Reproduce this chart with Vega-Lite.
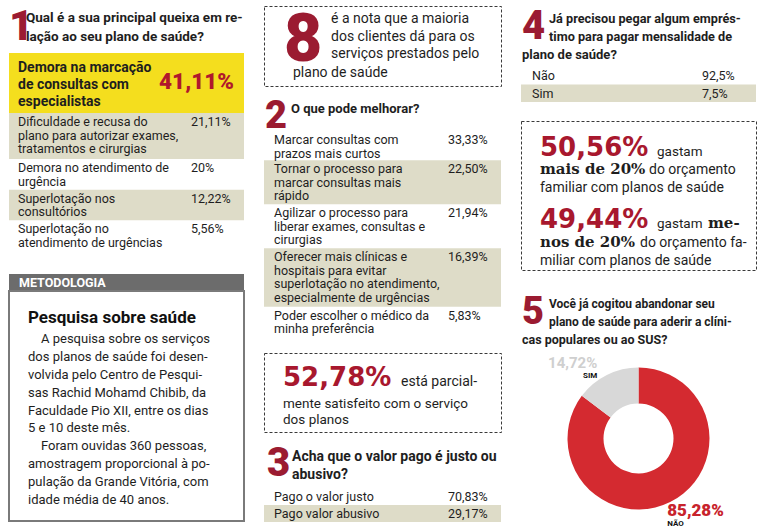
{
  "$schema": "https://vega.github.io/schema/vega-lite/v6.json",
  "padding": {"left": 8, "top": 5, "right": 0, "bottom": 0},
  "background": "white",
  "config": {"view": {"stroke": null}, "text": {"font": "Roboto", "color": "#1e1e1e"}},
  "datasets": {
    "q1": [
      {"ordem": 1, "rotulo": "Demora na marcação\nde consultas com\nespecialistas", "valor": 41.11, "texto_valor": "41,11%", "linhas": 3},
      {"ordem": 2, "rotulo": "Dificuldade e recusa do\nplano para autorizar exames,\ntratamentos e cirurgias", "valor": 21.11, "texto_valor": "21,11%", "linhas": 3},
      {"ordem": 3, "rotulo": "Demora no atendimento de\nurgência", "valor": 20, "texto_valor": "20%", "linhas": 2},
      {"ordem": 4, "rotulo": "Superlotação nos\nconsultórios", "valor": 12.22, "texto_valor": "12,22%", "linhas": 2},
      {"ordem": 5, "rotulo": "Superlotação no\natendimento de urgências", "valor": 5.56, "texto_valor": "5,56%", "linhas": 2}
    ],
    "q2": [
      {"ordem": 1, "rotulo": "Marcar consultas com\nprazos mais curtos", "valor": 33.33, "texto_valor": "33,33%", "linhas": 2},
      {"ordem": 2, "rotulo": "Tornar o processo para\nmarcar consultas mais\nrápido", "valor": 22.5, "texto_valor": "22,50%", "linhas": 3},
      {"ordem": 3, "rotulo": "Agilizar o processo para\nliberar exames, consultas e\ncirurgias", "valor": 21.94, "texto_valor": "21,94%", "linhas": 3},
      {"ordem": 4, "rotulo": "Oferecer mais clínicas e\nhospitais para evitar\nsuperlotação no atendimento,\nespecialmente de urgências", "valor": 16.39, "texto_valor": "16,39%", "linhas": 4},
      {"ordem": 5, "rotulo": "Poder escolher o médico da\nminha preferência", "valor": 5.83, "texto_valor": "5,83%", "linhas": 2}
    ],
    "q3": [
      {"ordem": 1, "rotulo": "Pago o valor justo", "valor": 70.83, "texto_valor": "70,83%", "linhas": 1},
      {"ordem": 2, "rotulo": "Pago valor abusivo", "valor": 29.17, "texto_valor": "29,17%", "linhas": 1}
    ],
    "q4": [
      {"ordem": 1, "rotulo": "Não", "valor": 92.5, "texto_valor": "92,5%", "linhas": 1},
      {"ordem": 2, "rotulo": "Sim", "valor": 7.5, "texto_valor": "7,5%", "linhas": 1}
    ],
    "q5": [
      {"ordem": 1, "resposta": "Não", "valor": 85.28, "texto_valor": "85,28%"},
      {"ordem": 2, "resposta": "Sim", "valor": 14.72, "texto_valor": "14,72%"}
    ],
    "orc": [
      {"ordem": 1, "pct": "50,56%", "valor": 50.56, "verbo": "gastam", "verbo_fim": "", "destaque": "mais de 20%", "meio": "do orçamento", "fim": "familiar com planos de saúde"},
      {"ordem": 2, "pct": "49,44%", "valor": 49.44, "verbo": "gastam", "verbo_fim": "me-", "destaque": "nos de 20%", "meio": "do orçamento fa-", "fim": "miliar com planos de saúde"}
    ]
  },
  "spacing": 18,
  "hconcat": [
    {
      "spacing": 0,
      "bounds": "flush",
      "vconcat": [
        {
          "width": 235, "height": 47,
          "data": {"values": [{"numero": "1", "pergunta": "Qual é a sua principal queixa em re-\nlação ao seu plano de saúde?"}]},
          "layer": [
            {"mark": {"type": "text", "x": 0, "y": 34, "align": "left", "baseline": "alphabetic", "fontSize": 42, "fontWeight": 900, "color": "#9b1b31"}, "encoding": {"text": {"field": "numero"}}},
            {"mark": {"type": "text", "x": 17, "y": 16, "align": "left", "baseline": "alphabetic", "fontSize": 13.5, "fontWeight": "bold", "lineHeight": 19, "lineBreak": "\n"}, "encoding": {"text": {"field": "pergunta"}}}
          ]
        },
        {
          "width": 235, "height": 60,
          "view": {"fill": "#f4de1e"},
          "data": {"name": "q1"},
          "transform": [{"filter": "datum.ordem === 1"}],
          "layer": [
            {"mark": {"type": "text", "x": 9, "y": 19, "align": "left", "baseline": "alphabetic", "fontSize": 14, "fontWeight": "bold", "lineHeight": 17, "lineBreak": "\n"}, "encoding": {"text": {"field": "rotulo"}}},
            {"mark": {"type": "text", "x": 225, "y": 36, "align": "right", "baseline": "alphabetic", "fontSize": 22.5, "fontWeight": 900, "color": "#b0182c"}, "encoding": {"text": {"field": "texto_valor"}}}
          ]
        },
        {
          "width": 235, "height": 138,
          "data": {"name": "q1"},
          "transform": [
            {"filter": "datum.ordem > 1"},
            {"stack": "linhas", "groupby": [], "sort": [{"field": "ordem", "order": "ascending"}], "as": ["inicio", "fim"]}
          ],
          "encoding": {"y": {"field": "inicio", "type": "quantitative", "scale": {"domain": [0, 9], "reverse": true, "nice": false, "zero": true}, "axis": null}},
          "layer": [
            {"transform": [{"filter": "datum.ordem % 2 === 0"}], "mark": {"type": "rect", "fill": "#dedcc8"}, "encoding": {"x": {"value": 0}, "x2": {"value": "width"}, "y2": {"field": "fim"}}},
            {"mark": {"type": "text", "x": 9, "dy": 3, "align": "left", "baseline": "top", "fontSize": 12.5, "lineHeight": 13.6, "lineBreak": "\n"}, "encoding": {"text": {"field": "rotulo"}}},
            {"mark": {"type": "text", "x": 182, "dy": 3, "align": "left", "baseline": "top", "fontSize": 12.5}, "encoding": {"text": {"field": "texto_valor"}}}
          ]
        },
        {"width": 235, "height": 23, "data": {"values": [{}]}, "mark": {"type": "text"}, "encoding": {"text": {"value": ""}}},
        {
          "width": 235, "height": 17,
          "view": {"fill": "#6c6c6c"},
          "data": {"values": [{"titulo": "METODOLOGIA"}]},
          "mark": {"type": "text", "x": 10, "y": 13, "align": "left", "baseline": "alphabetic", "fontSize": 12.5, "fontWeight": "bold", "color": "white"},
          "encoding": {"text": {"field": "titulo"}}
        },
        {
          "width": 235, "height": 230,
          "view": {"stroke": "#7a7a7a", "strokeWidth": 2},
          "data": {"values": [{"titulo": "Pesquisa sobre saúde", "p1_inicio": "A pesquisa sobre os serviços", "p1_resto": "dos planos de saúde foi desen-\nvolvida pelo Centro de Pesqui-\nsas Rachid Mohamd Chibib, da\nFaculdade Pio XII, entre os dias\n5 e 10 deste mês.", "p2_inicio": "Foram ouvidas 360 pessoas,", "p2_resto": "amostragem proporcional à po-\npulação da Grande Vitória, com\nidade média de 40 anos."}]},
          "layer": [
            {"mark": {"type": "text", "x": 19, "y": 32, "align": "left", "baseline": "alphabetic", "fontSize": 17, "fontWeight": "bold", "color": "#111"}, "encoding": {"text": {"field": "titulo"}}},
            {"mark": {"type": "text", "x": 32, "y": 52, "align": "left", "baseline": "alphabetic", "fontSize": 13}, "encoding": {"text": {"field": "p1_inicio"}}},
            {"mark": {"type": "text", "x": 19, "y": 69.9, "align": "left", "baseline": "alphabetic", "fontSize": 13, "lineHeight": 17.9, "lineBreak": "\n"}, "encoding": {"text": {"field": "p1_resto"}}},
            {"mark": {"type": "text", "x": 32, "y": 159.4, "align": "left", "baseline": "alphabetic", "fontSize": 13}, "encoding": {"text": {"field": "p2_inicio"}}},
            {"mark": {"type": "text", "x": 19, "y": 177.3, "align": "left", "baseline": "alphabetic", "fontSize": 13, "lineHeight": 17.9, "lineBreak": "\n"}, "encoding": {"text": {"field": "p2_resto"}}}
          ]
        }
      ]
    },
    {
      "spacing": 0,
      "bounds": "flush",
      "vconcat": [
        {
          "width": 237, "height": 80,
          "view": {"stroke": "#3a3a3a", "strokeDash": [3, 2], "strokeWidth": 1},
          "data": {"values": [{"nota": "8", "texto": "é a nota que a maioria\ndos clientes dá para os\nserviços prestados pelo", "fim": "plano de saúde"}]},
          "layer": [
            {"mark": {"type": "text", "x": 20, "y": 55, "align": "left", "baseline": "alphabetic", "fontSize": 66, "fontWeight": 900, "color": "#9b1b31"}, "encoding": {"text": {"field": "nota"}}},
            {"mark": {"type": "text", "x": 67, "y": 17, "align": "left", "baseline": "alphabetic", "fontSize": 14, "lineHeight": 17.6, "lineBreak": "\n"}, "encoding": {"text": {"field": "texto"}}},
            {"mark": {"type": "text", "x": 29, "y": 71, "align": "left", "baseline": "alphabetic", "fontSize": 14}, "encoding": {"text": {"field": "fim"}}}
          ]
        },
        {
          "width": 237, "height": 45,
          "data": {"values": [{"numero": "2", "pergunta": "O que pode melhorar?"}]},
          "layer": [
            {"mark": {"type": "text", "x": 1, "y": 42, "align": "left", "baseline": "alphabetic", "fontSize": 38, "fontWeight": 900, "color": "#9b1b31"}, "encoding": {"text": {"field": "numero"}}},
            {"mark": {"type": "text", "x": 27, "y": 27, "align": "left", "baseline": "alphabetic", "fontSize": 13, "fontWeight": "bold"}, "encoding": {"text": {"field": "pergunta"}}}
          ]
        },
        {
          "width": 237, "height": 205,
          "data": {"name": "q2"},
          "transform": [
            {"stack": "linhas", "groupby": [], "sort": [{"field": "ordem", "order": "ascending"}], "as": ["inicio", "fim"]}
          ],
          "encoding": {"y": {"field": "inicio", "type": "quantitative", "scale": {"domain": [0, 14], "reverse": true, "nice": false, "zero": true}, "axis": null}},
          "layer": [
            {"transform": [{"filter": "datum.ordem % 2 === 0"}], "mark": {"type": "rect", "fill": "#dedcc8"}, "encoding": {"x": {"value": 0}, "x2": {"value": "width"}, "y2": {"field": "fim"}}},
            {"mark": {"type": "text", "x": 10, "dy": 3, "align": "left", "baseline": "top", "fontSize": 12.5, "lineHeight": 13.6, "lineBreak": "\n"}, "encoding": {"text": {"field": "rotulo"}}},
            {"mark": {"type": "text", "x": 184, "dy": 3, "align": "left", "baseline": "top", "fontSize": 12.5}, "encoding": {"text": {"field": "texto_valor"}}}
          ]
        },
        {"width": 237, "height": 17, "data": {"values": [{}]}, "mark": {"type": "text"}, "encoding": {"text": {"value": ""}}},
        {
          "width": 237, "height": 79,
          "view": {"stroke": "#3a3a3a", "strokeDash": [3, 2], "strokeWidth": 1},
          "data": {"values": [{"pct": "52,78%", "texto1": "está parcial-", "texto2": "mente satisfeito com o serviço\ndos planos"}]},
          "layer": [
            {"mark": {"type": "text", "x": 19, "y": 33, "align": "left", "baseline": "alphabetic", "font": "DejaVu Sans", "fontSize": 26, "fontWeight": "bold", "color": "#a8182e"}, "encoding": {"text": {"field": "pct"}}},
            {"mark": {"type": "text", "x": 137, "y": 33, "align": "left", "baseline": "alphabetic", "fontSize": 14}, "encoding": {"text": {"field": "texto1"}}},
            {"mark": {"type": "text", "x": 19, "y": 55, "align": "left", "baseline": "alphabetic", "fontSize": 13.5, "lineHeight": 16, "lineBreak": "\n"}, "encoding": {"text": {"field": "texto2"}}}
          ]
        },
        {
          "width": 237, "height": 56,
          "data": {"values": [{"numero": "3", "pergunta": "Acha que o valor pago é justo ou\nabusivo?"}]},
          "layer": [
            {"mark": {"type": "text", "x": 3, "y": 44, "align": "left", "baseline": "alphabetic", "fontSize": 40, "fontWeight": 900, "color": "#9b1b31"}, "encoding": {"text": {"field": "numero"}}},
            {"mark": {"type": "text", "x": 28, "y": 29, "align": "left", "baseline": "alphabetic", "fontSize": 14, "fontWeight": "bold", "lineHeight": 18, "lineBreak": "\n"}, "encoding": {"text": {"field": "pergunta"}}}
          ]
        },
        {
          "width": 237, "height": 34,
          "data": {"name": "q3"},
          "transform": [
            {"stack": "linhas", "groupby": [], "sort": [{"field": "ordem", "order": "ascending"}], "as": ["inicio", "fim"]}
          ],
          "encoding": {"y": {"field": "inicio", "type": "quantitative", "scale": {"domain": [0, 2], "reverse": true, "nice": false, "zero": true}, "axis": null}},
          "layer": [
            {"transform": [{"filter": "datum.ordem % 2 === 0"}], "mark": {"type": "rect", "fill": "#dedcc8"}, "encoding": {"x": {"value": 0}, "x2": {"value": "width"}, "y2": {"field": "fim"}}},
            {"mark": {"type": "text", "x": 10, "dy": 3, "align": "left", "baseline": "top", "fontSize": 12.5}, "encoding": {"text": {"field": "rotulo"}}},
            {"mark": {"type": "text", "x": 184, "dy": 3, "align": "left", "baseline": "top", "fontSize": 12.5}, "encoding": {"text": {"field": "texto_valor"}}}
          ]
        }
      ]
    },
    {
      "spacing": 0,
      "bounds": "flush",
      "vconcat": [
        {
          "width": 235, "height": 61,
          "data": {"values": [{"numero": "4", "pergunta": "Já precisou pegar algum emprés-\ntimo para pagar mensalidade de", "final": "plano de saúde?"}]},
          "layer": [
            {"mark": {"type": "text", "x": 1, "y": 33, "align": "left", "baseline": "alphabetic", "fontSize": 40, "fontWeight": 900, "color": "#9b1b31"}, "encoding": {"text": {"field": "numero"}}},
            {"mark": {"type": "text", "x": 28, "y": 17, "align": "left", "baseline": "alphabetic", "fontSize": 12.7, "fontWeight": "bold", "lineHeight": 18, "lineBreak": "\n"}, "encoding": {"text": {"field": "pergunta"}}},
            {"mark": {"type": "text", "x": 1, "y": 53, "align": "left", "baseline": "alphabetic", "fontSize": 13, "fontWeight": "bold"}, "encoding": {"text": {"field": "final"}}}
          ]
        },
        {
          "width": 235, "height": 35,
          "data": {"name": "q4"},
          "transform": [
            {"stack": "linhas", "groupby": [], "sort": [{"field": "ordem", "order": "ascending"}], "as": ["inicio", "fim"]}
          ],
          "encoding": {"y": {"field": "inicio", "type": "quantitative", "scale": {"domain": [0, 2], "reverse": true, "nice": false, "zero": true}, "axis": null}},
          "layer": [
            {"transform": [{"filter": "datum.ordem % 2 === 0"}], "mark": {"type": "rect", "fill": "#dedcc8"}, "encoding": {"x": {"value": 0}, "x2": {"value": "width"}, "y2": {"field": "fim"}}},
            {"mark": {"type": "text", "x": 11, "dy": 3, "align": "left", "baseline": "top", "fontSize": 12.5}, "encoding": {"text": {"field": "rotulo"}}},
            {"mark": {"type": "text", "x": 181, "dy": 3, "align": "left", "baseline": "top", "fontSize": 12.5}, "encoding": {"text": {"field": "texto_valor"}}}
          ]
        },
        {"width": 235, "height": 19, "data": {"values": [{}]}, "mark": {"type": "text"}, "encoding": {"text": {"value": ""}}},
        {
          "width": 235, "height": 149,
          "view": {"stroke": "#3a3a3a", "strokeDash": [3, 2], "strokeWidth": 1},
          "data": {"name": "orc"},
          "encoding": {"y": {"field": "ordem", "type": "quantitative", "scale": {"domain": [0.514, 2.583], "reverse": true, "nice": false, "zero": false}, "axis": null}},
          "layer": [
            {"mark": {"type": "text", "x": 19, "align": "left", "baseline": "alphabetic", "font": "DejaVu Sans", "fontSize": 26, "fontWeight": "bold", "color": "#a8182e"}, "encoding": {"text": {"field": "pct"}}},
            {"mark": {"type": "text", "x": 136, "align": "left", "baseline": "alphabetic", "fontSize": 13.5}, "encoding": {"text": {"field": "verbo"}}},
            {"mark": {"type": "text", "x": 187, "align": "left", "baseline": "alphabetic", "font": "DejaVu Serif", "fontSize": 15, "fontWeight": "bold"}, "encoding": {"text": {"field": "verbo_fim"}}},
            {"mark": {"type": "text", "x": 19, "dy": 18.5, "align": "left", "baseline": "alphabetic", "font": "DejaVu Serif", "fontSize": 15, "fontWeight": "bold"}, "encoding": {"text": {"field": "destaque"}}},
            {"transform": [{"filter": "datum.ordem === 1"}], "mark": {"type": "text", "x": 128, "dy": 18.5, "align": "left", "baseline": "alphabetic", "fontSize": 14}, "encoding": {"text": {"field": "meio"}}},
            {"transform": [{"filter": "datum.ordem === 2"}], "mark": {"type": "text", "x": 119, "dy": 18.5, "align": "left", "baseline": "alphabetic", "fontSize": 14}, "encoding": {"text": {"field": "meio"}}},
            {"mark": {"type": "text", "x": 19, "dy": 36.5, "align": "left", "baseline": "alphabetic", "fontSize": 14}, "encoding": {"text": {"field": "fim"}}}
          ]
        },
        {
          "width": 235, "height": 81,
          "data": {"values": [{"numero": "5", "pergunta": "Você já cogitou abandonar seu\nplano de saúde para aderir a clíni-", "final": "cas populares ou ao SUS?"}]},
          "layer": [
            {"mark": {"type": "text", "x": 1, "y": 54, "align": "left", "baseline": "alphabetic", "fontSize": 38, "fontWeight": 900, "color": "#9b1b31"}, "encoding": {"text": {"field": "numero"}}},
            {"mark": {"type": "text", "x": 28, "y": 38, "align": "left", "baseline": "alphabetic", "fontSize": 12, "fontWeight": "bold", "lineHeight": 18, "lineBreak": "\n"}, "encoding": {"text": {"field": "pergunta"}}},
            {"mark": {"type": "text", "x": 1, "y": 74, "align": "left", "baseline": "alphabetic", "fontSize": 12.5, "fontWeight": "bold"}, "encoding": {"text": {"field": "final"}}}
          ]
        },
        {
          "width": 235, "height": 175,
          "data": {"name": "q5"},
          "encoding": {
            "theta": {"field": "valor", "type": "quantitative", "stack": true},
            "order": {"field": "ordem", "type": "quantitative"}
          },
          "layer": [
            {"mark": {"type": "arc", "innerRadius": 35, "outerRadius": 71}, "encoding": {"color": {"field": "resposta", "type": "nominal", "scale": {"domain": ["Não", "Sim"], "range": ["#d42a30", "#d8d8d8"]}, "legend": null}}},
            {"mark": {"type": "text", "radius": 88, "align": "right", "baseline": "middle", "dx": -2, "dy": 3, "fontSize": 15, "fontWeight": "bold", "color": "#cfcfcf"}, "encoding": {"text": {"condition": {"test": "datum.resposta === 'Sim'", "field": "texto_valor"}, "value": ""}}},
            {"mark": {"type": "text", "radius": 88, "align": "right", "baseline": "middle", "dx": -2, "dy": 16, "fontSize": 8, "fontWeight": "bold", "color": "#111"}, "encoding": {"text": {"condition": {"test": "datum.resposta === 'Sim'", "value": "SIM"}, "value": ""}}},
            {"mark": {"type": "text", "radius": 80, "align": "left", "baseline": "middle", "dx": -7, "dy": 1, "fontSize": 17, "fontWeight": 900, "color": "#c8232c"}, "encoding": {"text": {"condition": {"test": "datum.resposta === 'Não'", "field": "texto_valor"}, "value": ""}}},
            {"mark": {"type": "text", "radius": 80, "align": "left", "baseline": "middle", "dx": -7, "dy": 14, "fontSize": 8, "fontWeight": "bold", "color": "#111"}, "encoding": {"text": {"condition": {"test": "datum.resposta === 'Não'", "value": "NÃO"}, "value": ""}}}
          ]
        }
      ]
    }
  ]
}
